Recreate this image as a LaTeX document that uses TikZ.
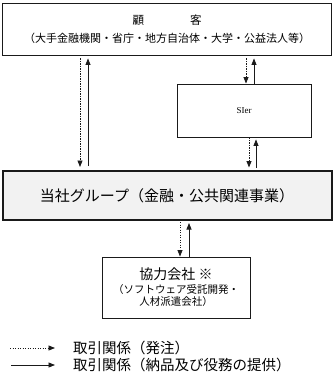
\documentclass[tikz,border=0pt]{standalone}
\usepackage{fontspec}
\usepackage{xcolor}
\usepackage{tikz}
\usetikzlibrary{arrows.meta, positioning}
\setmainfont{Noto Sans CJK JP}
\newfontfamily\latinserif{Liberation Serif}
\definecolor{groupFill}{HTML}{F2F2F2}
\definecolor{lineDark}{HTML}{1A1A1A}

\begin{document}
\begin{tikzpicture}[
    x=1pt, y=-1pt,
    party/.style={draw=lineDark, line width=0.9pt, align=center, inner sep=0pt},
    mainbox/.style={draw=lineDark, line width=2pt, fill=groupFill, align=center, inner sep=0pt},
    order/.style={-{Triangle[length=6.5pt, width=5pt]}, lineDark, line width=0.8pt, dash pattern=on 1.4pt off 1.1pt},
    supply/.style={-{Triangle[length=6.5pt, width=5pt]}, lineDark, line width=0.8pt},
]
    \useasboundingbox (0,0) rectangle (333,374);

    \node[party, minimum width=329pt, minimum height=52pt,
        font=\fontsize{11}{18}\selectfont] (customer) at (167, 29)
        {{\fontsize{11.5}{18}\selectfont 顧　　　　客}\\（大手金融機関・省庁・地方自治体・大学・公益法人等）};
    \node[party, minimum width=134pt, minimum height=53pt,
        font=\latinserif\fontsize{9}{10}\selectfont] (sier) at (244, 110.5) {SIer};
    \node[mainbox, minimum width=329pt, minimum height=49pt,
        font=\fontsize{15}{18}\selectfont] (group) at (167, 195.5)
        {当社グループ（金融・公共関連事業）};
    \node[party, minimum width=148pt, minimum height=61pt,
        font=\fontsize{10.5}{12}\selectfont] (partner) at (176, 287.5)
        {{\fontsize{14}{16}\selectfont 協力会社 ※}\\[2pt]（ソフトウェア受託開発・\\人材派遣会社）};

    % customer <-> group
    \draw[order, shorten <=3pt, shorten >=3pt] ([xshift=-87pt]customer.south) -- ([xshift=-87pt]group.north);
    \draw[supply, shorten <=4pt, shorten >=3pt] ([xshift=-79pt]group.north) -- ([xshift=-79pt]customer.south);
    % customer <-> SIer
    \draw[order, shorten <=3pt] ([xshift=79pt]customer.south) -- ([xshift=2pt]sier.north);
    \draw[supply, shorten >=3pt] ([xshift=10pt]sier.north) -- ([xshift=87pt]customer.south);
    % SIer <-> group
    \draw[order, shorten >=2.5pt] ([xshift=5pt]sier.south) -- ([xshift=82pt]group.north);
    \draw[supply, shorten <=2pt, shorten >=2pt] ([xshift=89pt]group.north) -- ([xshift=12pt]sier.south);
    % group <-> partner
    \draw[order, shorten <=1pt] ([xshift=13pt]group.south) -- ([xshift=4pt]partner.north);
    \draw[supply, shorten >=2pt] ([xshift=13pt]partner.north) -- ([xshift=22pt]group.south);

    % legend
    \coordinate (orderA) at (10, 348);
    \coordinate (orderB) at (55, 348);
    \coordinate (supplyA) at (11, 365);
    \coordinate (supplyB) at (55, 365);
    \draw[order] (orderA) -- (orderB);
    \draw[supply] (supplyA) -- (supplyB);
    \node[anchor=west, inner sep=0pt, font=\fontsize{14.5}{16}\selectfont] (orderText) at (73, 348) {取引関係（発注）};
    \node[anchor=west, inner sep=0pt, font=\fontsize{14.5}{16}\selectfont] (supplyText) at (73, 365) {取引関係（納品及び役務の提供）};
\end{tikzpicture}
\end{document}
